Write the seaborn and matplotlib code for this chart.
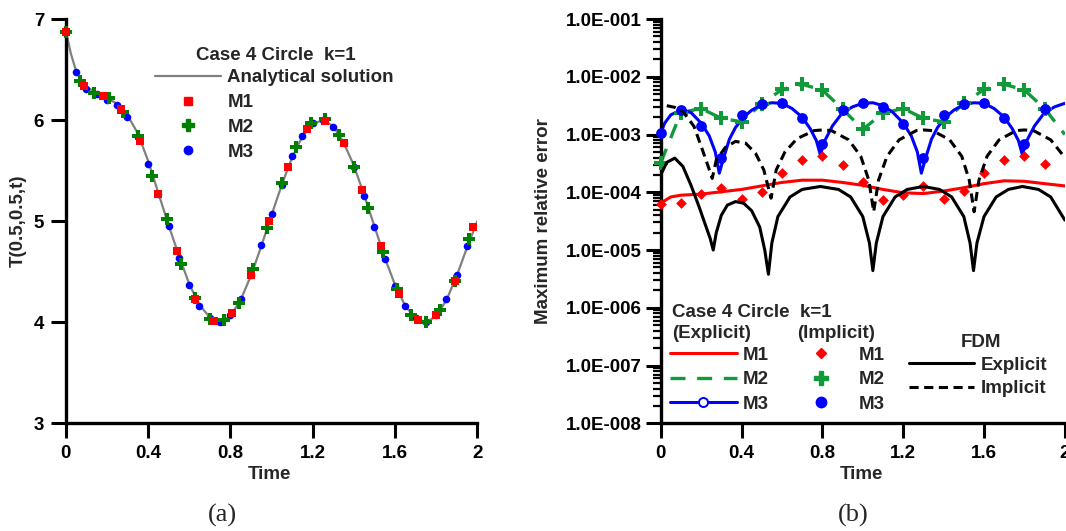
import numpy as np
import pandas as pd
import matplotlib
matplotlib.use("Agg")
import matplotlib.pyplot as plt
import seaborn as sns
from matplotlib.lines import Line2D
from matplotlib.ticker import FuncFormatter, LogLocator, NullFormatter, FixedLocator

# ---------------- (a) temperature at (0.5,0.5) ----------------
t_exact = [0.00, 0.01, 0.025, 0.05, 0.075, 0.10, 0.15, 0.20, 0.25, 0.30, 0.35, 0.40,
           0.45, 0.50, 0.55, 0.60, 0.65, 0.70, 0.75, 0.80, 0.85, 0.90, 0.95, 1.00,
           1.05, 1.10, 1.15, 1.20, 1.25, 1.30, 1.35, 1.40, 1.45, 1.50, 1.55, 1.60,
           1.65, 1.70, 1.75, 1.80, 1.85, 1.90, 1.95, 2.00]
T_exact = [6.88, 6.80, 6.66, 6.49, 6.38, 6.33, 6.27, 6.22, 6.16, 6.05, 5.87, 5.60,
           5.28, 4.96, 4.66, 4.38, 4.17, 4.05, 4.00, 4.06, 4.22, 4.46, 4.75, 5.06,
           5.36, 5.63, 5.84, 5.96, 6.00, 5.94, 5.78, 5.55, 5.26, 4.95, 4.64, 4.37,
           4.16, 4.04, 4.00, 4.06, 4.22, 4.46, 4.74, 5.00]

t_m1 = [0.00, 0.09, 0.18, 0.27, 0.36, 0.45, 0.54, 0.63, 0.72, 0.81, 0.90, 0.99,
        1.08, 1.17, 1.26, 1.35, 1.44, 1.53, 1.62, 1.71, 1.80, 1.89, 1.98]
T_m1 = [6.87, 6.34, 6.24, 6.11, 5.79, 5.27, 4.70, 4.23, 4.01, 4.09, 4.47, 5.00,
        5.54, 5.91, 5.99, 5.77, 5.31, 4.75, 4.28, 4.02, 4.07, 4.41, 4.94]

t_m2 = [0.00, 0.07, 0.14, 0.21, 0.28, 0.35, 0.42, 0.49, 0.56, 0.63, 0.70, 0.77,
        0.84, 0.91, 0.98, 1.05, 1.12, 1.19, 1.26, 1.33, 1.40, 1.47, 1.54, 1.61,
        1.68, 1.75, 1.82, 1.89, 1.96]
T_m2 = [6.87, 6.39, 6.27, 6.22, 6.08, 5.84, 5.45, 5.02, 4.58, 4.24, 4.03, 4.02,
        4.19, 4.53, 4.93, 5.38, 5.73, 5.97, 6.01, 5.85, 5.54, 5.13, 4.69, 4.33,
        4.07, 4.00, 4.12, 4.41, 4.82]

t_m3 = [0.00, 0.05, 0.10, 0.15, 0.20, 0.25, 0.30, 0.35, 0.40, 0.45, 0.50, 0.55,
        0.60, 0.65, 0.70, 0.75, 0.80, 0.85, 0.90, 0.95, 1.00, 1.05, 1.10, 1.15,
        1.20, 1.25, 1.30, 1.35, 1.40, 1.45, 1.50, 1.55, 1.60, 1.65, 1.70, 1.75,
        1.80, 1.85, 1.90, 1.95]
T_m3 = [6.87, 6.48, 6.31, 6.26, 6.20, 6.15, 6.03, 5.83, 5.57, 5.27, 4.95, 4.64,
        4.37, 4.16, 4.04, 4.00, 4.07, 4.23, 4.47, 4.76, 5.07, 5.36, 5.64, 5.84,
        5.97, 6.00, 5.93, 5.77, 5.54, 5.25, 4.94, 4.63, 4.36, 4.16, 4.04, 4.00,
        4.07, 4.23, 4.47, 4.75]

# ---------------- (b) maximum relative error ----------------
t_imp = [0.0, 0.1, 0.2, 0.3, 0.4, 0.5, 0.6, 0.7, 0.8, 0.9,
         1.0, 1.1, 1.2, 1.3, 1.4, 1.5, 1.6, 1.7, 1.8, 1.9]
err_imp_m1 = [6.3e-5, 6.5e-5, 9.2e-5, 1.2e-4, 7.6e-5, 1.02e-4, 2.19e-4, 3.63e-4, 4.17e-4, 3.02e-4,
              1.48e-4, 7.4e-5, 8.9e-5, 1.26e-4, 7.6e-5, 1.05e-4, 2.19e-4, 3.63e-4, 4.17e-4, 3.09e-4]
err_imp_m2 = [3.24e-4, 2.40e-3, 2.82e-3, 1.91e-3, 1.66e-3, 3.39e-3, 6.03e-3, 7.41e-3, 5.89e-3, 2.75e-3,
              1.23e-3, 2.34e-3, 2.82e-3, 1.91e-3, 1.66e-3, 3.47e-3, 6.03e-3, 7.41e-3, 5.89e-3, 2.82e-3]
err_imp_m3 = [1.05e-3, 2.66e-3, 1.41e-3, 3.89e-4, 2.19e-3, 3.39e-3, 3.47e-3, 1.95e-3, 6.9e-4, 2.66e-3,
              3.47e-3, 3.02e-3, 1.51e-3, 3.89e-4, 2.19e-3, 3.39e-3, 3.55e-3, 1.95e-3, 6.9e-4, 2.75e-3]

t_exp_m1 = [0.00, 0.05, 0.10, 0.20, 0.30, 0.40, 0.50, 0.60, 0.70, 0.80, 0.90,
            1.00, 1.10, 1.20, 1.30, 1.40, 1.50, 1.60, 1.70, 1.80, 1.90, 2.00]
err_exp_m1 = [6.5e-5, 8.3e-5, 8.9e-5, 9.3e-5, 1.02e-4, 1.12e-4, 1.29e-4, 1.48e-4, 1.62e-4, 1.62e-4, 1.48e-4,
              1.32e-4, 1.12e-4, 9.8e-5, 9.5e-5, 1.05e-4, 1.20e-4, 1.41e-4, 1.58e-4, 1.55e-4, 1.41e-4, 1.29e-4]

t_exp_m2 = [0.0, 0.1, 0.2, 0.3, 0.4, 0.5, 0.6, 0.7, 0.8, 0.9, 1.0,
            1.1, 1.2, 1.3, 1.4, 1.5, 1.6, 1.7, 1.8, 1.9, 2.0]
err_exp_m2 = [3.24e-4, 2.40e-3, 2.82e-3, 1.91e-3, 1.66e-3, 3.39e-3, 6.03e-3, 7.41e-3, 5.89e-3, 2.75e-3, 1.23e-3,
              2.34e-3, 2.82e-3, 1.91e-3, 1.66e-3, 3.47e-3, 6.03e-3, 7.41e-3, 5.89e-3, 2.82e-3, 1.0e-3]

t_exp_m3 = [0.00, 0.02, 0.05, 0.10, 0.15, 0.20, 0.24, 0.27, 0.29, 0.31, 0.34, 0.37, 0.41,
            0.45, 0.50, 0.55, 0.60, 0.65, 0.70, 0.74, 0.77, 0.79, 0.81, 0.85, 0.90, 0.95,
            1.00, 1.05, 1.10, 1.15, 1.20, 1.24, 1.27, 1.29, 1.31, 1.34, 1.37, 1.41, 1.45,
            1.50, 1.55, 1.60, 1.65, 1.70, 1.74, 1.77, 1.79, 1.81, 1.85, 1.90, 1.95, 2.00]
err_exp_m3 = [1.05e-3, 1.58e-3, 2.19e-3, 2.66e-3, 2.40e-3, 1.58e-3, 9.5e-4, 5.0e-4, 2.14e-4, 3.8e-4, 8.3e-4, 1.32e-3, 2.0e-3,
              2.63e-3, 3.31e-3, 3.55e-3, 3.47e-3, 2.82e-3, 2.0e-3, 1.26e-3, 7.9e-4, 4.47e-4, 7.6e-4, 1.41e-3, 2.40e-3, 3.02e-3,
              3.47e-3, 3.55e-3, 3.16e-3, 2.40e-3, 1.58e-3, 9.5e-4, 5.0e-4, 2.14e-4, 3.8e-4, 8.3e-4, 1.32e-3, 2.0e-3, 2.63e-3,
              3.31e-3, 3.55e-3, 3.47e-3, 2.82e-3, 2.0e-3, 1.26e-3, 7.9e-4, 4.47e-4, 7.6e-4, 1.41e-3, 2.40e-3, 3.02e-3, 3.47e-3]

t_fdm_exp = [0.00, 0.03, 0.07, 0.11, 0.15, 0.19, 0.22, 0.245, 0.26, 0.275, 0.30, 0.33, 0.37,
             0.41, 0.45, 0.49, 0.515, 0.533, 0.55, 0.58, 0.64, 0.70, 0.79, 0.88, 0.94,
             1.00, 1.033, 1.05, 1.067, 1.10, 1.16, 1.22, 1.30, 1.38, 1.44, 1.50, 1.531,
             1.548, 1.565, 1.60, 1.66, 1.72, 1.79, 1.87, 1.93, 2.00]
err_fdm_exp = [2.0e-4, 3.3e-4, 3.9e-4, 2.8e-4, 1.32e-4, 5.6e-5, 2.8e-5, 1.58e-5, 1.0e-5, 2.0e-5, 4.0e-5, 6.0e-5, 6.9e-5,
               6.5e-5, 4.8e-5, 2.5e-5, 1.0e-5, 3.8e-6, 1.32e-5, 3.8e-5, 8.3e-5, 1.12e-4, 1.26e-4, 1.12e-4, 8.3e-5,
               3.8e-5, 1.32e-5, 4.4e-6, 1.32e-5, 3.8e-5, 8.3e-5, 1.12e-4, 1.26e-4, 1.12e-4, 8.3e-5, 3.8e-5, 1.32e-5,
               4.4e-6, 1.32e-5, 3.8e-5, 8.3e-5, 1.12e-4, 1.26e-4, 1.12e-4, 8.3e-5, 3.3e-5]

t_fdm_imp = [0.03, 0.07, 0.11, 0.165, 0.205, 0.235, 0.255, 0.275, 0.32, 0.37, 0.42, 0.47, 0.51,
             0.546, 0.572, 0.615, 0.675, 0.76, 0.80, 0.845, 0.93, 0.99, 1.03, 1.054, 1.078,
             1.12, 1.18, 1.265, 1.30, 1.345, 1.43, 1.49, 1.527, 1.551, 1.575, 1.615, 1.675,
             1.76, 1.80, 1.845, 1.93, 2.00]
err_fdm_imp = [3.16e-3, 2.95e-3, 2.5e-3, 1.38e-3, 5.6e-4, 2.8e-4, 1.74e-4, 3.6e-4, 6.0e-4, 7.6e-4, 7.1e-4, 4.7e-4, 2.45e-4,
               7.9e-5, 2.45e-4, 5.0e-4, 8.5e-4, 1.17e-3, 1.2e-3, 1.17e-3, 8.1e-4, 4.2e-4, 1.62e-4, 4.6e-5, 1.62e-4,
               4.2e-4, 8.1e-4, 1.17e-3, 1.2e-3, 1.17e-3, 8.1e-4, 4.2e-4, 1.62e-4, 4.6e-5, 1.62e-4, 4.2e-4, 8.1e-4,
               1.17e-3, 1.2e-3, 1.17e-3, 8.1e-4, 4.0e-4]

RED, GREEN, BLUE, GREY = "#ff0000", "#008000", "#0000ff", "#808080"
GREEN_B = "#119a3a"
W, H = 1066, 531

sns.set_style("ticks")
plt.rcParams["font.family"] = ["Liberation Sans", "DejaVu Sans"]
plt.rcParams["font.weight"] = "bold"
plt.rcParams["axes.labelweight"] = "bold"
plt.rcParams["font.size"] = 13.5
plt.rcParams["axes.edgecolor"] = "black"
plt.rcParams["xtick.color"] = "black"
plt.rcParams["ytick.color"] = "black"

fig = plt.figure(figsize=(10.66, 5.31), dpi=100)
ax1 = fig.add_axes([0.0616, 0.2028, 0.3862, 0.7614])
ax2 = fig.add_axes([0.6198, 0.2028, 0.3791, 0.7614])

for ax in (ax1, ax2):
    for s in ("top", "right"):
        ax.spines[s].set_visible(False)
    for s in ("left", "bottom"):
        ax.spines[s].set_linewidth(2.4)
    ax.tick_params(which="major", direction="out", length=10.5, width=2.2, labelsize=13.5)
    ax.xaxis.set_major_locator(FixedLocator([0, 0.4, 0.8, 1.2, 1.6, 2.0]))
    ax.xaxis.set_major_formatter(FuncFormatter(lambda v, p: "%g" % round(v, 2)))
    ax.set_xlim(0, 2)
    ax.tick_params(axis="x", pad=5)


def ftext(x, y, s, **kw):
    # place text by pixel position in the 1066x531 canvas
    fig.text(x / W, 1 - y / H, s, fontsize=13.5, weight="bold", **kw)


# ---- panel (a)
sns.lineplot(x=t_exact, y=T_exact, ax=ax1, color=GREY, linewidth=1.6,
             estimator=None, sort=False, zorder=2)
sns.scatterplot(x=t_m3, y=T_m3, ax=ax1, marker="o", s=30, color=BLUE,
                linewidth=0, zorder=3, clip_on=False)
sns.scatterplot(x=t_m2, y=T_m2, ax=ax1, marker="P", s=72, color=GREEN,
                linewidth=0, zorder=4, clip_on=False)
sns.scatterplot(x=t_m1, y=T_m1, ax=ax1, marker="s", s=32, color=RED,
                linewidth=0, zorder=5, clip_on=False)
ax1.set_ylim(3, 7)
ax1.set_yticks([3, 4, 5, 6, 7])
ax1.tick_params(axis="y", pad=5)
ax1.set_xlabel("Time", fontsize=13.5)
ax1.set_ylabel("T(0.5,0.5,t)", fontsize=13.5)
ax1.xaxis.set_label_coords(0.496, -0.105)
ax1.yaxis.set_label_coords(-0.095, 0.5)

h_a = [Line2D([], [], color=GREY, lw=1.6),
       Line2D([], [], ls="none", marker="s", ms=6, color=RED),
       Line2D([], [], ls="none", marker="P", ms=8.5, color=GREEN),
       Line2D([], [], ls="none", marker="o", ms=6, color=BLUE)]
ax1.legend(h_a, ["Analytical solution", "M1", "M2", "M3"], loc="upper left",
           bbox_to_anchor=(0.217, 0.8756), frameon=False, borderpad=0,
           borderaxespad=0, handlelength=3.5, handletextpad=0.36,
           labelspacing=0.405, numpoints=1, fontsize=13.5)
ftext(275.5, 56, "Case 4 Circle  k=1", ha="center", va="center")

# ---- panel (b)
ax2.set_yscale("log")
sns.lineplot(x=t_exp_m1, y=err_exp_m1, ax=ax2, color=RED, linewidth=2.2,
             estimator=None, sort=False, zorder=2)
sns.lineplot(x=t_exp_m2, y=err_exp_m2, ax=ax2, color=GREEN_B, linewidth=2.4,
             linestyle=(0, (4.5, 3.5)), estimator=None, sort=False, zorder=2)
sns.lineplot(x=t_exp_m3, y=err_exp_m3, ax=ax2, color=BLUE, linewidth=2.2,
             estimator=None, sort=False, zorder=2)
sns.scatterplot(x=t_imp, y=err_imp_m1, ax=ax2, marker="D", s=30, color=RED,
                linewidth=0, zorder=3, clip_on=False)
sns.scatterplot(x=t_imp, y=err_imp_m2, ax=ax2, marker="P", s=90, color=GREEN_B,
                linewidth=0, zorder=3, clip_on=False)
sns.scatterplot(x=t_imp, y=err_imp_m3, ax=ax2, marker="o", s=60, color=BLUE,
                linewidth=0, zorder=3, clip_on=False)
sns.lineplot(x=t_fdm_exp, y=err_fdm_exp, ax=ax2, color="black", linewidth=2.2,
             estimator=None, sort=False, zorder=4)
sns.lineplot(x=t_fdm_imp, y=err_fdm_imp, ax=ax2, color="black", linewidth=2.2,
             linestyle=(0, (3, 1.8)), estimator=None, sort=False, zorder=4)

ax2.set_ylim(1e-8, 1e-1)
ax2.yaxis.set_major_locator(LogLocator(base=10, numticks=20))
ax2.yaxis.set_minor_locator(LogLocator(base=10, subs=np.arange(2, 10), numticks=100))
ax2.yaxis.set_minor_formatter(NullFormatter())
ax2.yaxis.set_major_formatter(FuncFormatter(
    lambda v, p: "1.0E%s%03d" % ("-" if v < 1 else "+", abs(int(round(np.log10(v)))))))
ax2.tick_params(axis="y", which="minor", direction="out", length=6, width=1.6)
ax2.tick_params(axis="y", which="major", pad=3)
ax2.set_xlabel("Time", fontsize=13.5)
ax2.set_ylabel("Maximum relative error", fontsize=13.5)
ax2.xaxis.set_label_coords(0.497, -0.105)
ax2.yaxis.set_label_coords(-0.269, 0.5)

h_e = [Line2D([], [], color=RED, lw=2.2),
       Line2D([], [], color=GREEN_B, lw=2.4, ls=(0, (4.5, 3.5))),
       Line2D([], [], color=BLUE, lw=2.2, marker="o", ms=6.5, mfc="white", mec=BLUE, mew=1.4)]
leg_e = ax2.legend(h_e, ["M1", "M2", "M3"], loc="upper left",
                   bbox_to_anchor=(0.0235, 0.1897), frameon=False,
                   borderpad=0, borderaxespad=0, handlelength=3.55, handletextpad=0.31,
                   labelspacing=0.4, numpoints=1, fontsize=13.5)
ax2.add_artist(leg_e)
h_i = [Line2D([], [], ls="none", marker="D", ms=5.5, color=RED),
       Line2D([], [], ls="none", marker="P", ms=9.5, color=GREEN_B),
       Line2D([], [], ls="none", marker="o", ms=7.5, color=BLUE)]
leg_i = ax2.legend(h_i, ["M1", "M2", "M3"], loc="upper left",
                   bbox_to_anchor=(0.3366, 0.1897), frameon=False,
                   borderpad=0, borderaxespad=0, handlelength=2.55, handletextpad=0.78,
                   labelspacing=0.4, numpoints=1, fontsize=13.5)
ax2.add_artist(leg_i)
h_f = [Line2D([], [], color="black", lw=2.2),
       Line2D([], [], color="black", lw=2.2, ls=(0, (3, 1.8)))]
ax2.legend(h_f, ["Explicit", "Implicit"], loc="upper left",
           bbox_to_anchor=(0.614, 0.165), frameon=False,
           borderpad=0, borderaxespad=0, handlelength=3.5, handletextpad=0.33,
           labelspacing=0.35, fontsize=13.5)
ftext(672, 312.3, "Case 4 Circle  k=1", ha="left", va="center")
ftext(672, 333.3, "(Explicit)", ha="left", va="center")
ftext(797, 333.3, "(Implicit)", ha="left", va="center")
ftext(980.6, 342.7, "FDM", ha="center", va="center")

fig.text(222.8 / W, 1 - 515 / H, "(a)", family="Liberation Serif",
         fontsize=19, weight="normal", ha="center", va="center")
fig.text(853 / W, 1 - 515 / H, "(b)", family="Liberation Serif",
         fontsize=19, weight="normal", ha="center", va="center")

fig.savefig("out.png", dpi=100)
